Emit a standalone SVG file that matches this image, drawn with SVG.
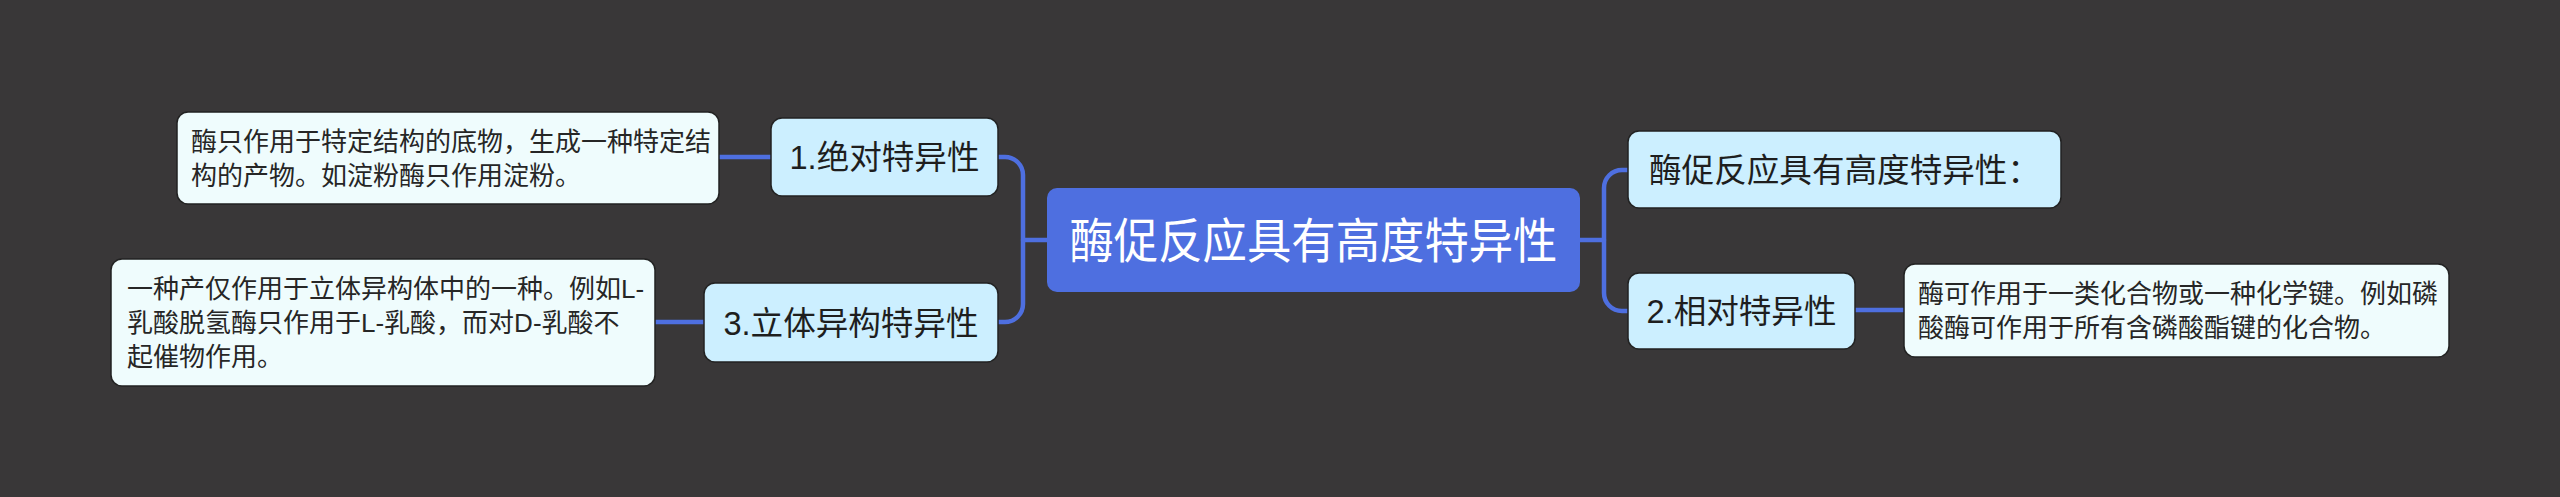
<svg xmlns="http://www.w3.org/2000/svg" width="2560" height="497" viewBox="0 0 2560 497">
<style>
text{font-family:"Liberation Sans","Noto Sans CJK SC",sans-serif}
.root rect{fill:#4e6fe0}
.root text{fill:#ffffff;font-size:48px;text-anchor:middle}
.l1 rect{fill:#ccefff;stroke:#222;stroke-width:1.5}
.l1 text{fill:#1e1e1e;font-size:32.6px;text-anchor:middle}
.leaf rect{fill:#effcfd;stroke:#222;stroke-width:1.5}
.leaf text{fill:#262626;font-size:26px}
.conn path{fill:none;stroke:#4e6fe0;stroke-width:4.5;stroke-linecap:round}
</style>
<rect width="2560" height="497" fill="#393738"/>
<g class="conn">
<path d="M1047,240 H1023"/>
<path d="M998,157 H1005 A18,18 0 0 1 1023,175 V304 A18,18 0 0 1 1005,322 H998"/>
<path d="M1580,240 H1604"/>
<path d="M1628,170 H1622 A18,18 0 0 0 1604,188 V293 A18,18 0 0 0 1622,311 H1628"/>
<path d="M771,157 H719"/>
<path d="M704,322 H655"/>
<path d="M1855,310 H1904"/>
</g>
<g id="root" class="root">
<rect x="1047" y="188" width="533" height="104" rx="10"/>
<text x="1313.5" y="258" textLength="488" lengthAdjust="spacingAndGlyphs">酶促反应具有高度特异性</text>
</g>
<g id="n1" class="l1">
<rect x="771" y="118" width="227" height="78" rx="11"/>
<text x="884.5" y="169.4">1.绝对特异性</text>
</g>
<g id="n3" class="l1">
<rect x="704" y="283" width="294" height="79" rx="11"/>
<text x="851" y="334.9">3.立体异构特异性</text>
</g>
<g id="n0" class="l1">
<rect x="1628" y="131" width="433" height="77" rx="11"/>
<text x="1844.5" y="182">酶促反应具有高度特异性：</text>
</g>
<g id="n2" class="l1">
<rect x="1628" y="273" width="227" height="76" rx="11"/>
<text x="1741.5" y="323.4">2.相对特异性</text>
</g>
<g id="leaf1" class="leaf">
<rect x="177" y="112" width="542" height="92" rx="11"/>
<text x="191" y="150.9">酶只作用于特定结构的底物，生成一种特定结</text>
<text x="191" y="184.9">构的产物。如淀粉酶只作用淀粉。</text>
</g>
<g id="leaf3" class="leaf">
<rect x="111" y="259" width="544" height="127" rx="11"/>
<text x="127" y="298.4">一种产仅作用于立体异构体中的一种。例如L-</text>
<text x="127" y="332.4">乳酸脱氢酶只作用于L-乳酸，而对D-乳酸不</text>
<text x="127" y="366.4">起催物作用。</text>
</g>
<g id="leaf2" class="leaf">
<rect x="1904" y="264" width="545" height="93" rx="11"/>
<text x="1918" y="303.4">酶可作用于一类化合物或一种化学键。例如磷</text>
<text x="1918" y="337.4">酸酶可作用于所有含磷酸酯键的化合物。</text>
</g>
</svg>
